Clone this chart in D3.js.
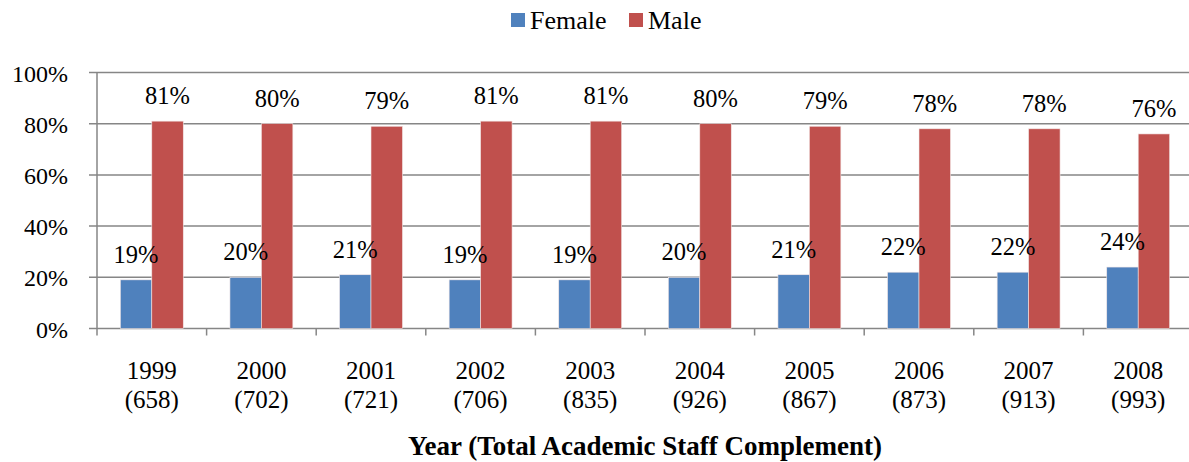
<!DOCTYPE html>
<html>
<head>
<meta charset="utf-8">
<script src="https://cdn.jsdelivr.net/npm/d3@7"></script>
<style>
    body { margin: 0; background: #fff; }
    svg { display: block; }
</style>
</head>
<body>
<div id="chart"></div>
<script>
const years = ['1999', '2000', '2001', '2002', '2003', '2004', '2005', '2006', '2007', '2008'];
const totals = ['658', '702', '721', '706', '835', '926', '867', '873', '913', '993'];
const female = [19, 20, 21, 19, 19, 20, 21, 22, 22, 24];
const male = [81, 80, 79, 81, 81, 80, 79, 78, 78, 76];
const seriesNames = ['Female', 'Male'];
const yTicks = [0, 20, 40, 60, 80, 100];

const width = 1189, height = 462;
const colors = { Female: '#4f81bd', Male: '#c0504d' };
const axisColor = '#868686';
const fontFamily = 'Liberation Serif';

const svg = d3.select('#chart').append('svg')
    .attr('width', width)
    .attr('height', height);

const x = d3.scaleBand()
    .domain(years)
    .range([97, 1193])
    .paddingInner(0)
    .paddingOuter(0);

const inner = d3.scaleBand()
    .domain(seriesNames)
    .range([x.bandwidth() * 0.213, x.bandwidth() * 0.787]);

const y = d3.scaleLinear()
    .domain([0, 100])
    .range([328.5, 72.5]);

// gridlines
svg.append('g')
    .selectAll('line')
    .data(yTicks)
    .enter()
    .append('line')
    .attr('x1', 89)
    .attr('x2', width)
    .attr('y1', d => y(d))
    .attr('y2', d => y(d))
    .attr('stroke', axisColor)
    .attr('stroke-width', 1.5);

// y axis line
svg.append('line')
    .attr('x1', 97).attr('x2', 97)
    .attr('y1', y(100)).attr('y2', y(0))
    .attr('stroke', axisColor)
    .attr('stroke-width', 1.5);

// category ticks
svg.append('g')
    .selectAll('line')
    .data(years.concat(['end']))
    .enter()
    .append('line')
    .attr('x1', (d, i) => x.range()[0] + i * x.step())
    .attr('x2', (d, i) => x.range()[0] + i * x.step())
    .attr('y1', y(0))
    .attr('y2', y(0) + 7)
    .attr('stroke', axisColor)
    .attr('stroke-width', 1.5);

// y tick labels
svg.append('g')
    .selectAll('text')
    .data(yTicks)
    .enter()
    .append('text')
    .attr('x', 68)
    .attr('y', d => y(d) + 9)
    .attr('text-anchor', 'end')
    .attr('font-family', fontFamily)
    .attr('font-size', 24)
    .text(d => d + '%');

// bars
const rows = years.map((yr, i) => ({ year: yr, Female: female[i], Male: male[i] }));

const groups = svg.append('g')
    .selectAll('g')
    .data(rows)
    .enter()
    .append('g')
    .attr('transform', d => `translate(${x(d.year)},0)`);

groups.selectAll('rect')
    .data(d => seriesNames.map(k => ({ key: k, value: d[k] })))
    .enter()
    .append('rect')
    .attr('x', d => inner(d.key))
    .attr('y', d => y(d.value))
    .attr('width', inner.bandwidth())
    .attr('height', d => y(0) - y(d.value))
    .attr('fill', d => colors[d.key])
    .attr('stroke', '#f2e6e6')
    .attr('stroke-width', 0.6);

groups.selectAll('text.val')
    .data(d => seriesNames.map(k => ({ key: k, value: d[k] })))
    .enter()
    .append('text')
    .attr('class', 'val')
    .attr('x', d => inner(d.key) + inner.bandwidth() / 2)
    .attr('y', d => y(d.value) - 17)
    .attr('text-anchor', 'middle')
    .attr('font-family', fontFamily)
    .attr('font-size', 24.5)
    .text(d => d.value + '%');

// x labels
const xl = svg.append('g')
    .selectAll('text')
    .data(years)
    .enter()
    .append('text')
    .attr('text-anchor', 'middle')
    .attr('font-family', fontFamily)
    .attr('font-size', 25);

xl.append('tspan')
    .attr('x', d => x(d) + x.bandwidth() / 2)
    .attr('y', 379)
    .text(d => d);

xl.append('tspan')
    .attr('x', d => x(d) + x.bandwidth() / 2)
    .attr('y', 408)
    .text((d, i) => '(' + totals[i] + ')');

// axis title
svg.append('text')
    .attr('x', 645)
    .attr('y', 455)
    .attr('text-anchor', 'middle')
    .attr('font-family', fontFamily)
    .attr('font-size', 27)
    .attr('font-weight', 'bold')
    .text('Year (Total Academic Staff Complement)');

// legend
const legend = svg.append('g');
const legendX = [511, 629];
seriesNames.forEach((name, i) => {
    legend.append('rect')
        .attr('x', legendX[i])
        .attr('y', 13)
        .attr('width', 14)
        .attr('height', 14)
        .attr('fill', colors[name]);
    legend.append('text')
        .attr('x', legendX[i] + 19)
        .attr('y', 29)
        .attr('font-family', fontFamily)
        .attr('font-size', 26)
        .text(name);
});
</script>
</body>
</html>
